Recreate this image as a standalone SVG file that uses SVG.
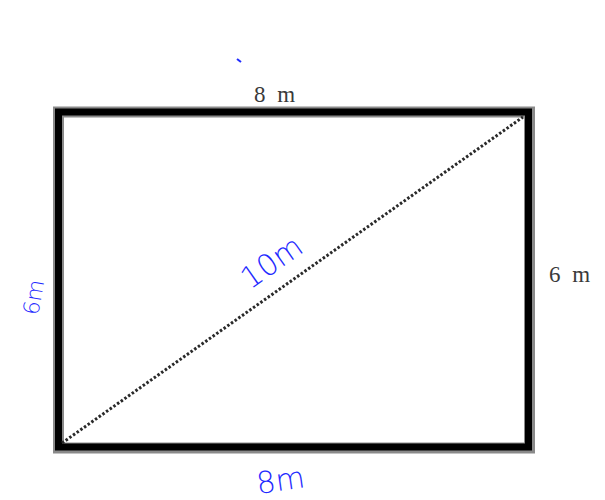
<svg xmlns="http://www.w3.org/2000/svg" width="605" height="500" viewBox="0 0 605 500">
<style>
.lbl{font-family:"Liberation Serif","DejaVu Serif",serif;font-size:23px;letter-spacing:3px;fill:#3a3a3a}
.hw{font-family:"DejaVu Sans","Liberation Sans",sans-serif;font-weight:300;fill:#1f2bff}
</style>
<rect width="605" height="500" fill="#fff"/>
<g id="rectangle">
<rect x="58.5" y="112" width="471" height="336" fill="none" stroke="#8a8a8a" stroke-width="11"/>
<rect x="58.5" y="112" width="470" height="335" fill="none" stroke="#000" stroke-width="7"/>
</g>
<g id="connectors">
<line x1="62" y1="443" x2="523" y2="117" stroke="#2a2a2a" stroke-width="3" stroke-dasharray="2.5 2"/>
</g>
<g id="labels">
<text class="lbl" x="254" y="102">8 m</text>
<text class="lbl" x="549" y="282">6 m</text>
</g>
<g id="handwriting">
<line x1="237" y1="59" x2="241" y2="62" stroke="#1f2bff" stroke-width="2"/>
<text class="hw" font-size="30" transform="translate(250,290) rotate(-35)">10m</text>
<text class="hw" font-size="22" transform="translate(38,316) rotate(-80)">6m</text>
<text class="hw" font-size="30" transform="translate(258,494) rotate(-8)">8m</text>
</g>
</svg>
